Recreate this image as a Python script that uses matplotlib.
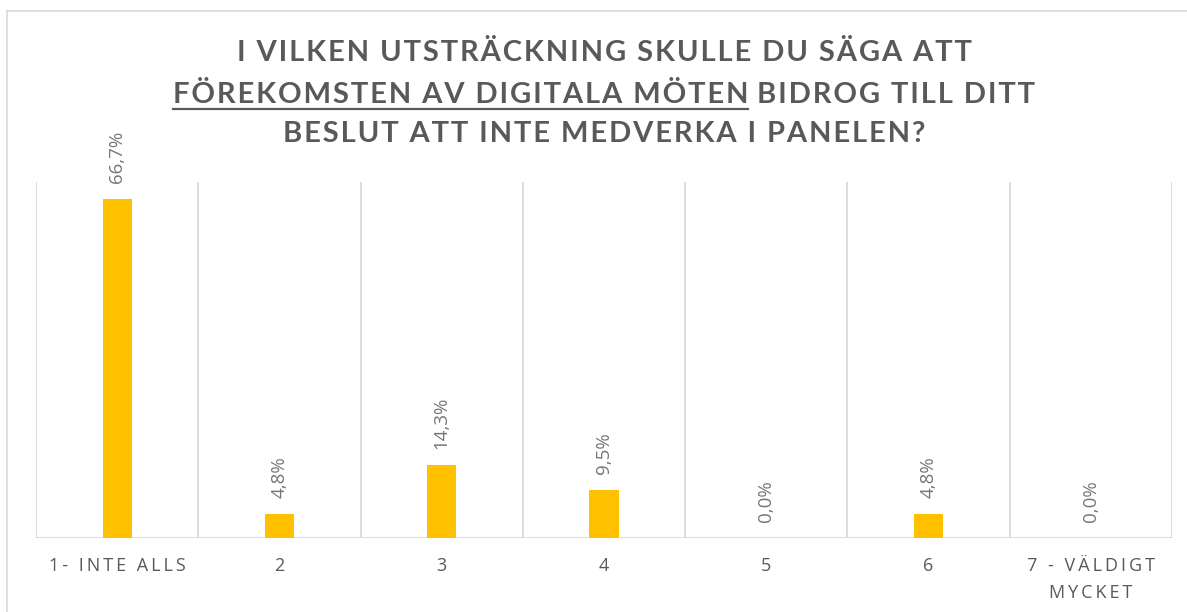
import matplotlib
matplotlib.use("Agg")
import matplotlib.pyplot as plt
from matplotlib.lines import Line2D

categories = ["1- INTE ALLS", "2", "3", "4", "5", "6", "7 - VÄLDIGT\nMYCKET"]
values = [66.7, 4.8, 14.3, 9.5, 0.0, 4.8, 0.0]
value_labels = ["66,7%", "4,8%", "14,3%", "9,5%", "0,0%", "4,8%", "0,0%"]
title_line1 = "I VILKEN UTSTRÄCKNING SKULLE DU SÄGA ATT"
title_line2_underlined = "FÖREKOMSTEN AV DIGITALA MÖTEN"
title_line2_rest = " BIDROG TILL DITT"
title_line3 = "BESLUT ATT INTE MEDVERKA I PANELEN?"

BAR = "#FFC000"
GRID = "#D9D9D9"
TITLE_C = "#595959"
LABEL_C = "#595959"
TITLE_FONT = ["Lato", "DejaVu Sans"]
BODY_FONT = ["Open Sans", "DejaVu Sans"]


def spaced(s, sep="\u200a"):
    return sep.join(s)


def tick_spaced(s):
    return "\n".join("\u2009".join(line) for line in s.split("\n"))


W, H = 1187, 612
fig = plt.figure(figsize=(W / 100, H / 100), dpi=100)
fig.patch.set_facecolor("white")

# chart outer frame (left and top edges)
fig.add_artist(Line2D([7 / W, 7 / W], [0, 1 - 11 / H], transform=fig.transFigure,
                      color=GRID, lw=1.2))
fig.add_artist(Line2D([7 / W, 1], [1 - 11 / H, 1 - 11 / H], transform=fig.transFigure,
                      color=GRID, lw=1.2))

ax = fig.add_axes([36 / W, (H - 538) / H, (1172 - 36) / W, (538 - 182) / H])
x = list(range(len(categories)))
ax.bar(x, values, width=0.18, color=BAR, zorder=3)
ax.set_xlim(-0.5, len(categories) - 0.5)
ax.set_ylim(0, 70)

for spine in ax.spines.values():
    spine.set_visible(False)
for b in [i - 0.5 for i in range(len(categories) + 1)]:
    ax.axvline(b, color=GRID, lw=1.3, zorder=1)
ax.axhline(0, color=GRID, lw=1.3, zorder=2)

ax.set_yticks([])
ax.set_xticks(x)
ax.set_xticklabels([tick_spaced(c) for c in categories], fontsize=13,
                   color=LABEL_C, family=BODY_FONT, linespacing=1.6)
ax.tick_params(axis="x", length=0, pad=14)

for xi, v, lab in zip(x, values, value_labels):
    ax.annotate(lab, (xi, v), xytext=(0, 11.5), textcoords="offset points",
                rotation=90, ha="center", va="bottom", fontsize=13.5,
                color="#767676", family=BODY_FONT)

# title with underlined phrase on the second line
tkw = dict(fontsize=21, fontweight="bold", color=TITLE_C, family=TITLE_FONT)
cx = (36 + 1172) / 2 / W
fig.text(cx, 1 - 53 / H, spaced(title_line1), ha="center", va="center", **tkw)
fig.text(cx, 1 - 134 / H, spaced(title_line3), ha="center", va="center", **tkw)

t_a = fig.text(0, 1 - 95 / H, spaced(title_line2_underlined), ha="left", va="center", **tkw)
t_b = fig.text(0, 1 - 95 / H, spaced(title_line2_rest), ha="left", va="center", **tkw)
fig.canvas.draw()
r = fig.canvas.get_renderer()
wa = t_a.get_window_extent(r).width
wb = t_b.get_window_extent(r).width
total = wa + wb
x0 = cx * W - total / 2
t_a.set_x(x0 / W)
t_b.set_x((x0 + wa) / W)
bb = t_a.get_window_extent(r)
uy = (bb.y0 - 1) / H
fig.add_artist(Line2D([x0 / W, (x0 + wa) / W], [uy, uy], transform=fig.transFigure,
                      color=TITLE_C, lw=1.6))

fig.savefig("out.png", dpi=100, facecolor="white")
